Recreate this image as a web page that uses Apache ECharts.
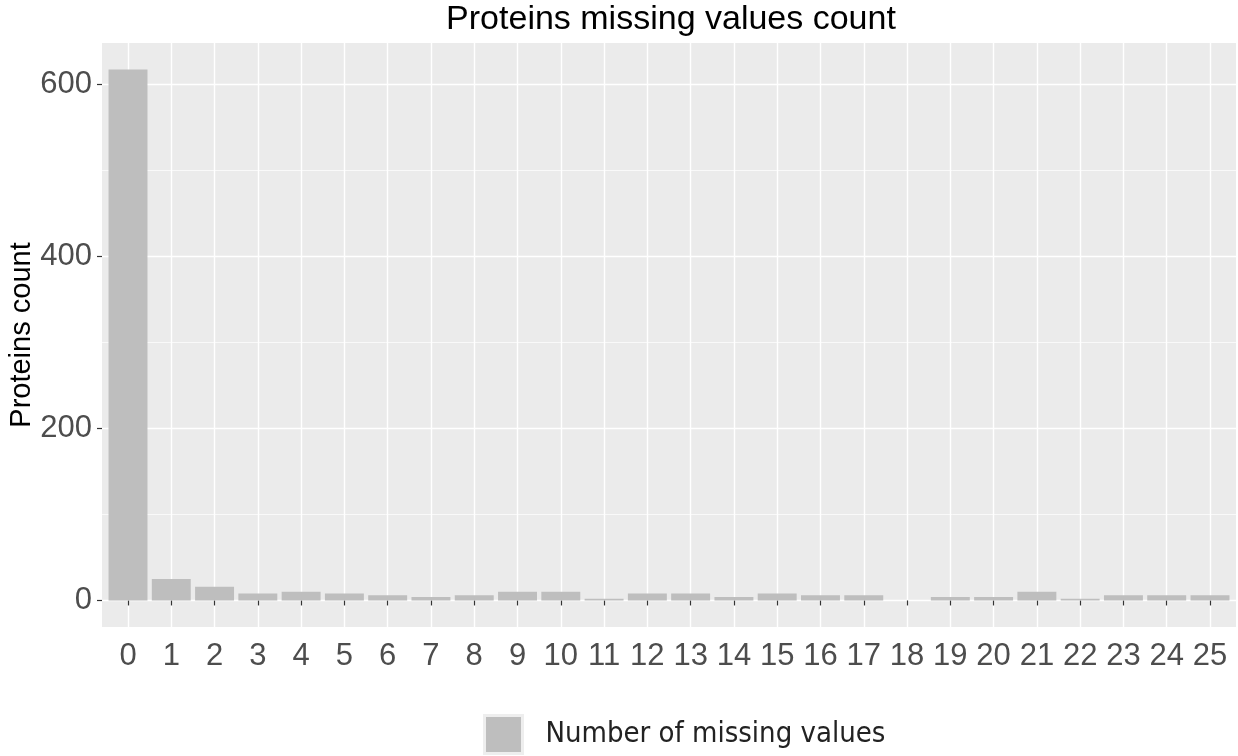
<!DOCTYPE html>
<html>
<head>
<meta charset="utf-8">
<title>Proteins missing values count</title>
<script src="https://cdn.jsdelivr.net/npm/echarts@6/dist/echarts.min.js"></script>
<style>
  html, body { margin: 0; padding: 0; background: #fff; }
  #chart { width: 1238px; height: 756px; }
</style>
</head>
<body>
<div id="chart"></div>
<script>
// number of missing values per protein (x categories)
const missingCounts = ['0', '1', '2', '3', '4', '5', '6', '7', '8', '9', '10', '11', '12',
  '13', '14', '15', '16', '17', '18', '19', '20', '21', '22', '23', '24', '25'];
// proteins count for each category
const proteinCounts = [617, 25, 16, 8, 10, 8, 6, 4, 6, 10, 10, 2, 8, 8, 4, 8, 6, 6, 0, 4, 4, 10, 2, 6, 6, 6];
// y tick values
const yMajorTicks = [0, 200, 400, 600];
const yMinorTicks = [100, 300, 500];

const seriesName = 'Number of missing values';

// ggplot style expansion of the y range (5% each side)
const maxCount = Math.max.apply(null, proteinCounts);
const yMin = -0.05 * maxCount;
const yMax = 1.05 * maxCount;

const labelFont = 'Liberation Sans';

let myChart = echarts.init(document.getElementById('chart'), null, { renderer: 'canvas' });

myChart.setOption({
  animation: false,
  title: {
    text: 'Proteins missing values count',
    left: 671,
    textAlign: 'center',
    top: 1,
    padding: [2, 0, 2, 0],
    textStyle: {
      fontFamily: labelFont,
      fontSize: 34,
      fontWeight: 'normal',
      color: '#000'
    }
  },
  legend: {
    left: 483,
    top: 714,
    padding: 0,
    icon: 'rect',
    itemWidth: 38,
    itemHeight: 38,
    data: [seriesName],
    itemStyle: {
      borderColor: '#EEEEEE',
      borderWidth: 3
    },
    textStyle: {
      fontFamily: "'DejaVu Sans Condensed', Roboto, sans-serif",
      fontSize: 29,
      fontWeight: 'normal',
      color: '#222',
      padding: [0, 0, 0, 18]
    }
  },
  grid: [
    // data grid: category 0 and 25 centres sit 0.6 band inside the panel
    { left: 128, right: 28, top: 43, bottom: 129, show: false, outerBoundsMode: 'none' },
    // panel background
    { left: 102, right: 2, top: 43, bottom: 129, show: true, backgroundColor: '#EBEBEB', borderWidth: 0, z: -1, outerBoundsMode: 'none' }
  ],
  xAxis: [
    {
      type: 'category',
      gridIndex: 0,
      data: missingCounts,
      boundaryGap: false,
      axisLine: { show: false },
      axisTick: {
        show: true,
        interval: 0,
        length: 5,
        lineStyle: { color: '#333', width: 1.2 }
      },
      axisLabel: {
        interval: 0,
        margin: 14,
        fontFamily: labelFont,
        fontSize: 31,
        color: '#4D4D4D'
      },
      splitLine: {
        show: true,
        interval: 0,
        lineStyle: { color: '#fff', width: 1.4 }
      }
    },
    {
      type: 'value',
      gridIndex: 1,
      min: 0,
      max: 1,
      show: false
    }
  ],
  yAxis: [
    {
      type: 'value',
      gridIndex: 0,
      min: yMin,
      max: yMax,
      show: false
    },
    {
      type: 'value',
      gridIndex: 1,
      min: yMin,
      max: yMax,
      axisLine: { show: false },
      axisTick: {
        show: true,
        length: 5,
        customValues: yMajorTicks,
        lineStyle: { color: '#333', width: 1.2 }
      },
      axisLabel: {
        customValues: yMajorTicks,
        margin: 10,
        fontFamily: labelFont,
        fontSize: 31,
        color: '#4D4D4D'
      },
      splitLine: {
        show: true,
        lineStyle: { color: '#fff', width: 1.4 }
      },
      name: 'Proteins count',
      nameLocation: 'middle',
      nameGap: 66,
      nameMoveOverlap: false,
      nameTextStyle: {
        fontFamily: labelFont,
        fontSize: 29,
        color: '#000'
      }
    },
    {
      // minor grid lines
      type: 'value',
      gridIndex: 1,
      min: yMin,
      max: yMax,
      axisLine: { show: false },
      axisTick: { show: false, customValues: yMinorTicks },
      axisLabel: { show: false },
      splitLine: {
        show: true,
        lineStyle: { color: '#fff', width: 0.7 }
      }
    }
  ],
  series: [
    {
      name: seriesName,
      type: 'bar',
      xAxisIndex: 0,
      yAxisIndex: 0,
      data: proteinCounts,
      barWidth: '90%',
      clip: false,
      itemStyle: { color: '#BEBEBE' }
    }
  ]
});
</script>
</body>
</html>
